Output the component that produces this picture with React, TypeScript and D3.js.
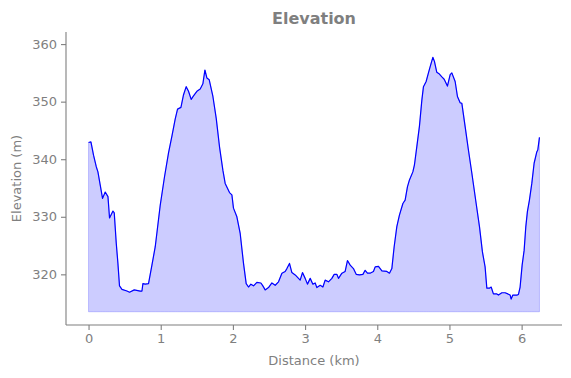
import { useEffect, useRef } from "react";
import * as d3 from "d3";

// distance along the track (km)
const distanceKm = [
  0, 0.033, 0.069, 0.107, 0.13, 0.162, 0.194, 0.231, 0.269, 0.291, 0.338, 0.356,
  0.384, 0.407, 0.429, 0.463, 0.532, 0.568, 0.633, 0.716, 0.74, 0.753, 0.785,
  0.831, 0.878, 0.924, 0.993, 1.053, 1.108, 1.155, 1.201, 1.233, 1.28, 1.316,
  1.353, 1.385, 1.422, 1.454, 1.501, 1.547, 1.584, 1.612, 1.64, 1.672, 1.723,
  1.769, 1.814, 1.861, 1.893, 1.953, 1.986, 2.008, 2.055, 2.101, 2.147, 2.184,
  2.216, 2.249, 2.285, 2.332, 2.388, 2.415, 2.447, 2.493, 2.54, 2.586, 2.632,
  2.679, 2.724, 2.748, 2.784, 2.817, 2.863, 2.909, 2.932, 2.964, 3.001, 3.033,
  3.071, 3.108, 3.14, 3.163, 3.209, 3.247, 3.278, 3.324, 3.371, 3.403, 3.44,
  3.463, 3.51, 3.555, 3.587, 3.625, 3.67, 3.708, 3.753, 3.801, 3.832, 3.864,
  3.9, 3.947, 3.971, 4.017, 4.064, 4.133, 4.169, 4.202, 4.234, 4.271, 4.307,
  4.355, 4.386, 4.418, 4.446, 4.493, 4.515, 4.548, 4.584, 4.618, 4.64, 4.677,
  4.709, 4.733, 4.77, 4.792, 4.825, 4.861, 4.895, 4.927, 4.972, 5.01, 5.033,
  5.079, 5.111, 5.148, 5.172, 5.217, 5.263, 5.31, 5.37, 5.416, 5.457, 5.494,
  5.518, 5.554, 5.578, 5.609, 5.657, 5.679, 5.726, 5.771, 5.809, 5.841, 5.855,
  5.878, 5.934, 5.956, 5.979, 6.007, 6.035, 6.058, 6.08, 6.108, 6.141, 6.173,
  6.211, 6.224, 6.247,
];

// elevation (m)
const elevationM = [
  342.9, 343.0, 340.7, 338.7, 337.8, 335.5, 333.2, 334.3, 333.5, 329.8, 331.0,
  330.7, 325.4, 321.9, 318.0, 317.4, 317.1, 316.9, 317.3, 317.1, 317.1, 318.4,
  318.3, 318.4, 321.6, 324.8, 332.0, 337.0, 341.1, 344.0, 347.0, 348.7, 349.0,
  351.2, 352.6, 351.8, 350.4, 351.0, 351.8, 352.2, 353.1, 355.5, 354.1, 353.8,
  350.9, 347.1, 342.2, 338.1, 335.8, 334.2, 333.8, 331.5, 330.0, 327.1, 321.9,
  318.4, 317.8, 318.3, 318.0, 318.6, 318.5, 318.0, 317.3, 317.7, 318.5, 318.1,
  318.7, 320.2, 320.5, 321.0, 321.9, 320.3, 319.9, 319.3, 319.0, 320.3, 319.3,
  318.3, 319.3, 318.3, 318.5, 317.7, 318.1, 317.8, 319.0, 318.7, 319.3, 320.0,
  320.0, 319.3, 320.2, 320.5, 322.4, 321.6, 321.0, 320.0, 319.9, 320.0, 320.7,
  320.2, 320.2, 320.5, 321.3, 321.4, 320.6, 320.5, 320.2, 321.0, 324.8, 328.3,
  330.3, 332.3, 332.9, 335.2, 336.4, 337.8, 339.0, 342.2, 345.7, 350.3, 352.6,
  353.5, 355.0, 356.1, 357.7, 357.0, 355.1, 354.8, 354.3, 353.9, 352.7, 354.7,
  355.0, 353.5, 350.9, 349.8, 349.7, 345.7, 341.6, 337.6, 332.3, 328.3, 323.9,
  321.3, 317.6, 317.6, 317.8, 316.6, 316.6, 316.4, 316.8, 316.8, 316.6, 316.4,
  315.7, 316.4, 316.4, 316.5, 317.8, 321.6, 324.2, 328.3, 330.9, 332.9, 335.8,
  339.3, 341.3, 341.6, 343.8,
];

const fillBase = 313.5;
const xTicks = [0, 1, 2, 3, 4, 5, 6];
const yTicks = [320, 330, 340, 350, 360];

const W = 571;
const H = 378;
const margin = { top: 32, right: 9, bottom: 53, left: 66 };
const grey = "#7f7f7f";
const font = "DejaVu Sans, sans-serif";

const App = () => {
  const ref = useRef<SVGSVGElement>(null);

  useEffect(() => {
    const svg = d3.select(ref.current);
    svg.selectAll("*").remove();

    const data = distanceKm.map((d, i) => [d, elevationM[i]] as [number, number]);
    const xMax = d3.max(distanceKm) as number;
    const pad = xMax * 0.05;

    const x = d3
      .scaleLinear()
      .domain([-pad, xMax + pad])
      .range([margin.left, W - margin.right]);
    const y = d3
      .scaleLinear()
      .domain([311.2, 362.1])
      .range([H - margin.bottom, margin.top]);

    const area = d3
      .area<[number, number]>()
      .x((d) => x(d[0]))
      .y0(y(fillBase))
      .y1((d) => y(d[1]));
    const line = d3
      .line<[number, number]>()
      .x((d) => x(d[0]))
      .y((d) => y(d[1]));

    svg
      .append("path")
      .attr("d", area(data) as string)
      .attr("fill", "rgba(0,0,255,0.2)")
      .attr("stroke", "rgba(0,0,255,0.2)")
      .attr("stroke-width", 1);

    svg
      .append("path")
      .attr("d", line(data) as string)
      .attr("fill", "none")
      .attr("stroke", "#0000ff")
      .attr("stroke-width", 1.2)
      .attr("stroke-linejoin", "round");

    // axes
    const xAxis = svg
      .append("g")
      .attr("transform", `translate(0,${H - margin.bottom})`)
      .call(d3.axisBottom(x).tickValues(xTicks).tickFormat(d3.format("d")).tickSize(5).tickPadding(4));
    const yAxis = svg
      .append("g")
      .attr("transform", `translate(${margin.left},0)`)
      .call(d3.axisLeft(y).tickValues(yTicks).tickFormat(d3.format("d")).tickSize(5).tickPadding(4));

    [xAxis, yAxis].forEach((a) => {
      a.select(".domain").attr("stroke", grey).attr("stroke-width", 1.1);
      a.selectAll(".tick line").attr("stroke", grey).attr("stroke-width", 1.1);
      a.selectAll(".tick text")
        .attr("fill", grey)
        .style("font-family", font)
        .style("font-size", "13px");
    });
    xAxis.select(".domain").attr("d", `M${margin.left},0H${W - margin.right}`);
    yAxis.select(".domain").attr("d", `M0,${margin.top}V${H - margin.bottom}`);

    svg
      .append("text")
      .attr("x", (margin.left + W - margin.right) / 2)
      .attr("y", 365)
      .attr("text-anchor", "middle")
      .attr("fill", grey)
      .style("font-family", font)
      .style("font-size", "13px")
      .text("Distance (km)");

    svg
      .append("text")
      .attr("transform", `translate(21,${(margin.top + H - margin.bottom) / 2}) rotate(-90)`)
      .attr("text-anchor", "middle")
      .attr("fill", grey)
      .style("font-family", font)
      .style("font-size", "13px")
      .text("Elevation (m)");

    svg
      .append("text")
      .attr("x", (margin.left + W - margin.right) / 2)
      .attr("y", 24)
      .attr("text-anchor", "middle")
      .attr("fill", grey)
      .style("font-family", font)
      .style("font-size", "16px")
      .style("font-weight", "bold")
      .text("Elevation");
  }, []);

  return (
    <svg
      ref={ref}
      width={W}
      height={H}
      style={{ position: "absolute", left: 0, top: 0, background: "#fff" }}
    />
  );
};

export default App;
